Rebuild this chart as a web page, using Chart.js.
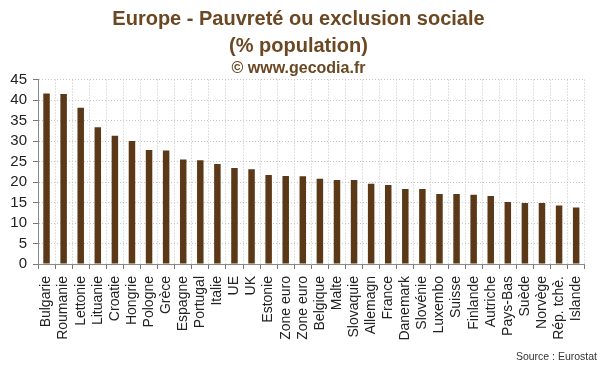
<!DOCTYPE html>
<html>
<head>
<meta charset="utf-8">
<script src="https://cdn.jsdelivr.net/npm/chart.js@4/dist/chart.umd.min.js"></script>
<style>
  body { margin: 0; background: #fff; }
  #wrap { position: relative; width: 600px; height: 372px; }
  #source { position: absolute; right: 3px; top: 350px; font: 10.5px "Liberation Sans", Arial, sans-serif; color: #333; }
</style>
</head>
<body>
<div id="wrap">
  <canvas id="chart" width="600" height="372"></canvas>
  <div id="source">Source : Eurostat</div>
</div>
<script>
// Categories and values
const countries = ['Bulgarie', 'Roumanie', 'Lettonie', 'Lituanie', 'Croatie', 'Hongrie', 'Pologne', 'Grèce',
  'Espagne', 'Portugal', 'Italie', 'UE', 'UK', 'Estonie', 'Zone euro', 'Zone euro', 'Belgique', 'Malte',
  'Slovaquie', 'Allemagn', 'France', 'Danemark', 'Slovénie', 'Luxembo', 'Suisse', 'Finlande', 'Autriche',
  'Pays-Bas', 'Suède', 'Norvège', 'Rép. tchè.', 'Islande'];
const poverty = [41.6, 41.5, 38.1, 33.4, 31.3, 30.0, 27.8, 27.7,
  25.5, 25.3, 24.4, 23.4, 23.1, 21.7, 21.5, 21.4, 20.8, 20.5,
  20.5, 19.6, 19.3, 18.3, 18.3, 17.1, 17.1, 16.9, 16.6,
  15.1, 14.9, 14.9, 14.3, 13.8];
const yTicks = [0, 5, 10, 15, 20, 25, 30, 35, 40, 45];

const font = '"Liberation Sans", Arial, sans-serif';

new Chart(document.getElementById('chart').getContext('2d'), {
  type: 'bar',
  data: {
    labels: countries,
    datasets: [{
      data: poverty,
      backgroundColor: '#5a3818',
      barPercentage: 0.38,
      categoryPercentage: 1
    }]
  },
  options: {
    responsive: false,
    animation: false,
    layout: { padding: { left: 0, right: 3, top: 0, bottom: 0 } },
    plugins: {
      legend: { display: false },
      tooltip: { enabled: false },
      title: {
        display: true,
        text: ['Europe - Pauvreté ou exclusion sociale', '(% population)'],
        color: '#6b4722',
        font: { family: font, size: 20, weight: 'bold', lineHeight: 1.35 },
        padding: { top: 6, bottom: 0 }
      },
      subtitle: {
        display: true,
        text: '© www.gecodia.fr',
        color: '#6b4722',
        font: { family: font, size: 16, weight: 'bold', lineHeight: 1.1 },
        padding: { top: 0, bottom: 2 }
      }
    },
    scales: {
      x: {
        grid: { color: '#c4c4c4', offset: true, tickColor: '#777', tickLength: 5 },
        border: { color: '#888', dash: [1, 2] },
        ticks: {
          color: '#222',
          font: { family: font, size: 14 },
          minRotation: 90,
          maxRotation: 90,
          autoSkip: false,
          padding: 7
        },
        afterFit: (s) => { s.height = 108; }
      },
      y: {
        min: 0,
        max: 45,
        afterBuildTicks: (s) => { s.ticks = yTicks.map(v => ({ value: v })); },
        grid: { color: '#c4c4c4', tickColor: '#777', tickLength: 5 },
        border: { color: '#888', dash: [1, 2] },
        ticks: {
          color: '#222',
          font: { family: font, size: 15 },
          autoSkip: false,
          padding: 6
        },
        afterFit: (s) => { s.width = 38; }
      }
    }
  }
});
</script>
</body>
</html>
